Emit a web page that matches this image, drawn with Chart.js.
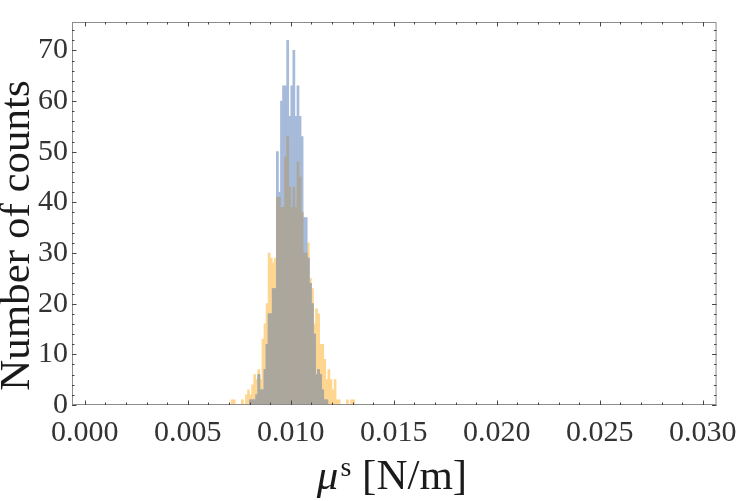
<!DOCTYPE html>
<html>
<head>
<meta charset="utf-8">
<script src="https://cdn.jsdelivr.net/npm/chart.js@4/dist/chart.umd.min.js"></script>
<style>
html,body{margin:0;padding:0;background:#fff}
</style>
</head>
<body>
<canvas id="c" width="747" height="501"></canvas>
<script>
/* ---------- data (bins of width 0.0001, centers) ---------- */
const binCenters=[
  0.00705,0.00715,0.00725,0.00735,0.00745,0.00755,0.00765,0.00775,0.00785,0.00795,
  0.00805,0.00815,0.00825,0.00835,0.00845,0.00855,0.00865,0.00875,0.00885,0.00895,
  0.00905,0.00915,0.00925,0.00935,0.00945,0.00955,0.00965,0.00975,0.00985,0.00995,
  0.01005,0.01015,0.01025,0.01035,0.01045,0.01055,0.01065,0.01075,0.01085,0.01095,
  0.01105,0.01115,0.01125,0.01135,0.01145,0.01155,0.01165,0.01175,0.01185,0.01195,
  0.01205,0.01215,0.01225,0.01235,0.01245,0.01255,0.01265,0.01275,0.01285,0.01295,
  0.01305];
const countsBlue=[
  0,0,0,0,0,0,0,0,0,0,
  1,1,1,2,6,3,3,7,12,18,
  18,23,23,50,42,60,63,63,72,57,
  63,70,57,63,57,53,37,37,29,24,
  20,14,6,7,6,3,1,1,0,0,
  0,0,0,0,0,0,0,0,0,0,
  0];
const countsOrange=[
  0,1,1,0,0,0,1,0,2,3,
  2,4,6,5,7,5,13,16,20,30,
  29,28,29,41,41,39,39,49,53,43,
  39,43,39,48,45,38,30,30,32,25,
  23,16,19,18,12,12,9,5,7,5,
  3,5,1,1,0,0,0,1,0,1,
  1];
const xTicks=[0,0.005,0.010,0.015,0.020,0.025,0.030];
const yTicks=[0,10,20,30,40,50,60,70];

/* ---------- look ---------- */
const FONT='"Liberation Serif", "Times New Roman", serif';
const cBlue='rgb(166,186,218)', cOrange='rgb(255,214,143)', cBoth='rgb(172,167,157)';

const pts=arr=>binCenters.map((x,i)=>({x,y:arr[i]}));
const overlap=binCenters.map((x,i)=>({x,y:Math.min(countsBlue[i],countsOrange[i])}));

/* frame with inward ticks + axis titles */
const frame={id:'frame',afterDraw(ch){
  const {ctx,chartArea:a,scales:{x,y}}=ch;
  ctx.save();
  ctx.strokeStyle='#8c8c8c';ctx.lineWidth=1;
  ctx.strokeRect(a.left+.5,a.top+.5,a.right-a.left-1,a.bottom-a.top-1);
  ctx.strokeStyle='#444';ctx.beginPath();
  for(let i=0;i<=30;i++){
    const px=Math.round(x.getPixelForValue(i*0.001))+.5, L=i%5?2.5:4.5;
    ctx.moveTo(px,a.bottom);ctx.lineTo(px,a.bottom-L);
    ctx.moveTo(px,a.top);ctx.lineTo(px,a.top+L);
  }
  for(let v=0;v<=74;v+=2){
    const py=Math.round(y.getPixelForValue(v))+.5, L=v%10?2.5:4.5;
    ctx.moveTo(a.left,py);ctx.lineTo(a.left+L,py);
    ctx.moveTo(a.right,py);ctx.lineTo(a.right-L,py);
  }
  ctx.stroke();

  ctx.fillStyle='#1a1a1a';
  /* y title */
  ctx.save();
  ctx.translate(29,(a.top+a.bottom)/2+22);ctx.rotate(-Math.PI/2);
  ctx.font='43px '+FONT;ctx.textAlign='center';ctx.textBaseline='alphabetic';
  ctx.fillText('Number of counts',0,0);
  ctx.restore();
  /* x title: italic mu, superscript s, [N/m] */
  const big='43px '+FONT, it='italic 43px '+FONT, sm='28px '+FONT;
  ctx.font=it;const w1=ctx.measureText('\u03bc').width;
  ctx.font=sm;const w2=ctx.measureText('s').width;
  ctx.font=big;const w3=ctx.measureText(' [N/m]').width;
  let sx=392-(w1+w2+w3+2)/2, base=489;
  ctx.textAlign='left';ctx.textBaseline='alphabetic';
  ctx.font=it;ctx.fillText('\u03bc',sx,base);sx+=w1+2;
  ctx.font=sm;ctx.fillText('s',sx,base-13);sx+=w2;
  ctx.font=big;ctx.fillText(' [N/m]',sx,base);
  ctx.restore();
}};

new Chart(document.getElementById('c'),{
  type:'bar',
  data:{datasets:[
    {label:'both',data:overlap,backgroundColor:cBoth},
    {label:'blue',data:pts(countsBlue),backgroundColor:cBlue},
    {label:'orange',data:pts(countsOrange),backgroundColor:cOrange}
  ]},
  options:{
    responsive:false,animation:false,devicePixelRatio:1,
    layout:{padding:{left:0,right:23,top:2,bottom:0}},
    datasets:{bar:{grouped:false,barPercentage:1,categoryPercentage:1,borderWidth:0}},
    plugins:{legend:{display:false},tooltip:{enabled:false}},
    scales:{
      x:{type:'linear',min:-0.00062,max:0.03067,offset:false,
         grid:{display:false,drawTicks:false},border:{display:false},
         afterBuildTicks:s=>{s.ticks=xTicks.map(v=>({value:v}));},
         afterFit:s=>{s.height=96;},
         ticks:{font:{family:FONT,size:30},color:'#333',padding:10,maxRotation:0,autoSkip:false,
                callback:v=>v.toFixed(3)}},
      y:{type:'linear',min:0,max:75.6,
         grid:{display:false,drawTicks:false},border:{display:false},
         afterBuildTicks:s=>{s.ticks=yTicks.map(v=>({value:v}));},
         afterFit:s=>{s.width=72;},
         ticks:{font:{family:FONT,size:30},color:'#333',padding:4,autoSkip:false}}
    }
  },
  plugins:[frame]
});
</script>
</body>
</html>
